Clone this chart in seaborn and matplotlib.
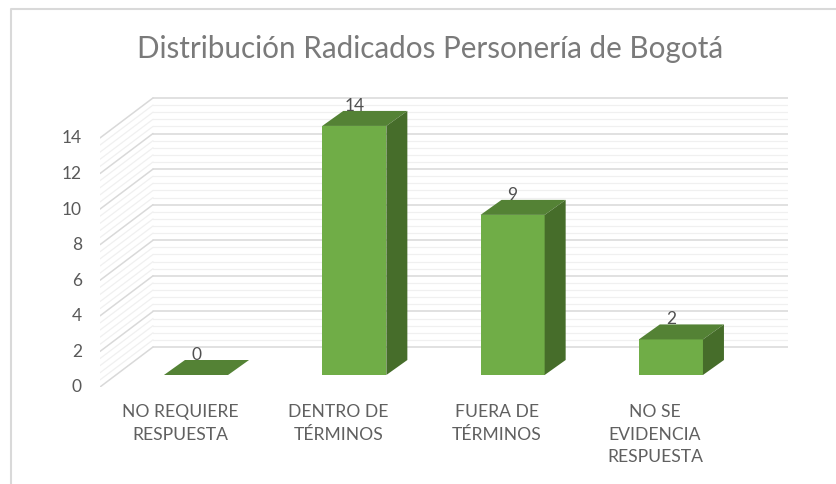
import numpy as np
import seaborn as sns
import matplotlib.pyplot as plt
from matplotlib.patches import Polygon
from matplotlib.lines import Line2D
from matplotlib.transforms import ScaledTranslation

# Datos
categorias = ['NO REQUIERE\nRESPUESTA', 'DENTRO DE\nTÉRMINOS', 'FUERA DE\nTÉRMINOS', 'NO SE\nEVIDENCIA\nRESPUESTA']
valores = [0, 14, 9, 2]
ticks_y = [0, 2, 4, 6, 8, 10, 12, 14]
titulo = 'Distribución Radicados Personería de Bogotá'

sns.set_theme(style='white')
plt.rcParams['font.family'] = ['Lato', 'DejaVu Sans']

W, H = 836, 485
fig = plt.figure(figsize=(W / 100, H / 100), dpi=100, facecolor='white')

# escala en pixeles: categoria = 158.3 px, unidad y = 17.79 px
px_x, px_y = 158.3, 17.79
left, right, bottom, top = 100, 788, 388, 91
ax = fig.add_axes([left / W, 1 - bottom / H, (right - left) / W, (bottom - top) / H])

sns.barplot(x=categorias, y=valores, color='#70ad47', saturation=1, width=0.405, linewidth=0, ax=ax, zorder=3)
ax.set_xlim((left - 196) / px_x, (right - 196) / px_x)
ax.set_ylim((376 - bottom) / px_y, (376 - top) / px_y)
sns.despine(ax=ax, left=True, bottom=True)

# paredes: fondo y lateral
pared_dx, pared_dy = 53 / px_x, 40 / px_y
atras = 28 / px_y
x0, x1 = ax.get_xlim()
menores = np.arange(0, 14.01, 0.4)
for v in menores:
    mayor = abs(v / 2 - round(v / 2)) < 1e-6
    c = '#d9d9d9' if mayor else '#f0f0f0'
    lw = 1.1 if mayor else 0.9
    z = 2 if mayor else 1
    ax.plot([x0 + pared_dx, x1], [v + atras, v + atras], color=c, lw=lw, zorder=z)
    ax.plot([x0, x0 + pared_dx], [v + atras - pared_dy, v + atras], color=c, lw=lw, zorder=z)

# caras 3D de cada barra
dx, dy = 21 / px_x, 15 / px_y
for p, val in zip(ax.patches, valores):
    xa, w, h = p.get_x(), p.get_width(), p.get_height()
    xb = xa + w
    ax.add_patch(Polygon([(xa, h), (xb, h), (xb + dx, h + dy), (xa + dx, h + dy)],
                         facecolor='#548235', edgecolor='none', zorder=4))
    if h > 0:
        ax.add_patch(Polygon([(xb, 0), (xb + dx, dy), (xb + dx, h + dy), (xb, h)],
                             facecolor='#466d2a', edgecolor='none', zorder=4))
    ax.text(xa + w / 2, h + 21 / px_y, str(val), ha='center', va='center',
            fontsize=12.5, color='#505050', zorder=3.5)

# ejes
ax.set_yticks(ticks_y)
ax.set_yticklabels([str(t) for t in ticks_y], fontsize=12.5, color='#595959')
ax.tick_params(axis='y', length=0, pad=13)
ax.tick_params(axis='x', length=0, pad=11.5)
for lab in ax.get_yticklabels():
    lab.set_transform(lab.get_transform() + ScaledTranslation(0, -10 / 100, fig.dpi_scale_trans))
ax.set_xticks(range(len(categorias)))
ax.set_xticklabels(categorias, fontsize=12.6, color='#606060', linespacing=1.52)
for lab in ax.get_xticklabels():
    lab.set_transform(lab.get_transform() + ScaledTranslation(-16 / 100, 0, fig.dpi_scale_trans))

fig.text(430.5 / W, 1 - 49 / H, titulo, ha='center', va='center', fontsize=21.3,
         color='#7a7a7a')

# marco del grafico
fig.add_artist(Line2D([11 / W, 11 / W, 1], [0, 1 - 10 / H, 1 - 10 / H], color='#d9d9d9', lw=1.5))

fig.savefig('out.png', dpi=100)
